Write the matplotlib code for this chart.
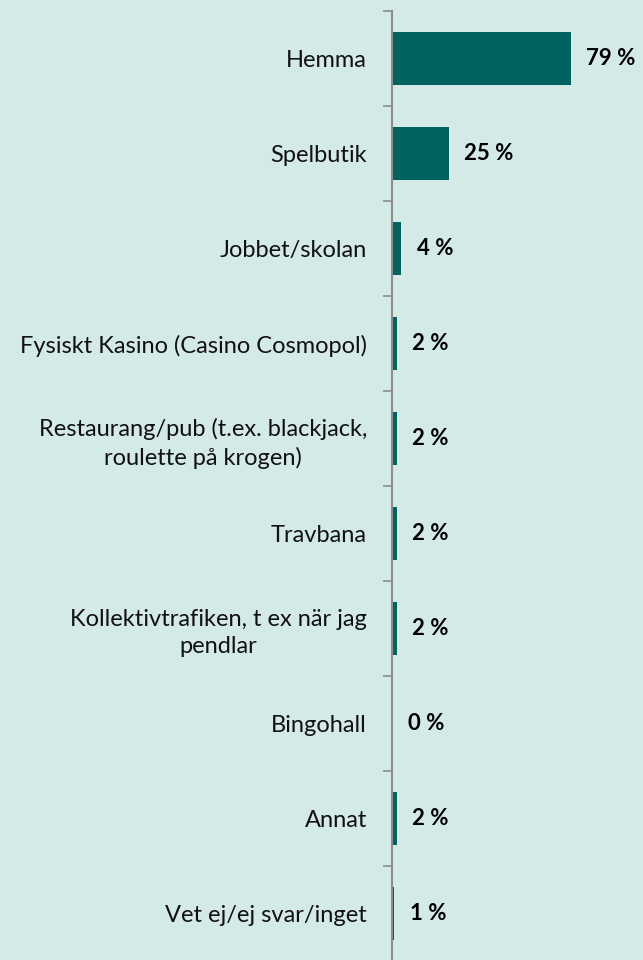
import matplotlib
matplotlib.use("Agg")
import matplotlib.pyplot as plt
from matplotlib.ticker import FixedLocator

categories = [
    "Hemma",
    "Spelbutik",
    "Jobbet/skolan",
    "Fysiskt Kasino (Casino Cosmopol)",
    "Restaurang/pub (t.ex. blackjack,\nroulette på krogen)",
    "Travbana",
    "Kollektivtrafiken, t ex när jag\npendlar",
    "Bingohall",
    "Annat",
    "Vet ej/ej svar/inget",
]
values = [79, 25, 4, 2, 2, 2, 2, 0, 2, 1]
labels = ["79 %", "25 %", "4 %", "2 %", "2 %", "2 %", "2 %", "0 %", "2 %", "1 %"]

BG = "#d3eae7"
BAR = "#00635f"
AXC = "#8c8c8c"

plt.rcParams['font.family'] = ['Lato', 'DejaVu Sans']

fig = plt.figure(figsize=(6.43, 9.6), dpi=100, facecolor=BG)
ax = fig.add_axes([392 / 643, -1 / 960, 251 / 643, 950 / 960])
ax.set_facecolor(BG)

y = list(range(len(categories)))
ax.barh(y, values, height=0.56, color=BAR)
ax.set_ylim(len(categories) - 0.5, -0.5)
ax.set_xlim(0, 111)

for yi, v, lab in zip(y, values, labels):
    ax.text(v + 7, yi, lab, va="center", ha="left", fontsize=16, fontweight="bold", color="#000000")

ax.set_yticks(y)
ax.set_yticklabels(categories, fontsize=17, color="#111111", multialignment="center", linespacing=1.35)
ax.yaxis.set_minor_locator(FixedLocator([i - 0.5 for i in range(len(categories) + 1)]))
ax.tick_params(axis="y", which="major", length=0, pad=18)
ax.tick_params(axis="y", which="minor", length=6.5, width=1.2, color=AXC)
ax.set_xticks([])
for s in ["top", "right", "bottom"]:
    ax.spines[s].set_visible(False)
ax.spines["left"].set_color(AXC)
ax.spines["left"].set_linewidth(1.5)

fig.savefig("out.png", dpi=100, facecolor=BG)
